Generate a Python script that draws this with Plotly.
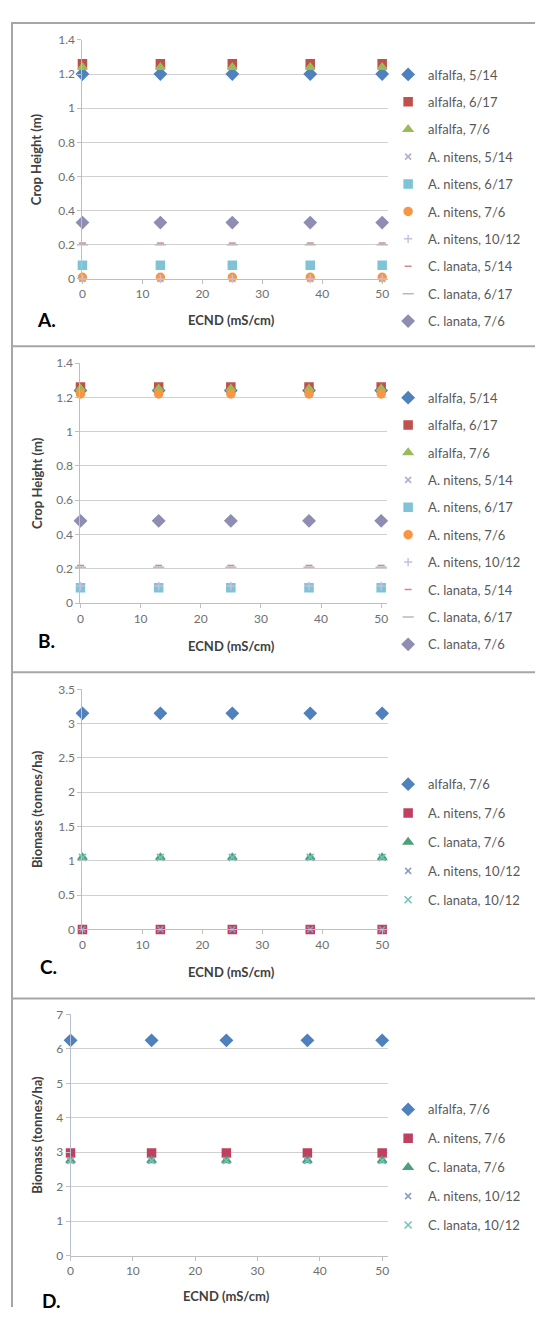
import plotly.graph_objects as go

# page is 544x1322; browser body has an 8px margin, so the figure is drawn 8px in
OFF = 8
W, H = 544 - 2 * OFF, 1322 - 2 * OFF

# ---------------- data ----------------
ecnd = [0, 13, 25, 38, 50]

# Panels A, B: crop height (m)
names_ab = ["alfalfa, 5/14", "alfalfa, 6/17", "alfalfa, 7/6",
            "A. nitens, 5/14", "A. nitens, 6/17", "A. nitens, 7/6",
            "A. nitens, 10/12", "C. lanata, 5/14", "C. lanata, 6/17",
            "C. lanata, 7/6"]
height_a = [1.20, 1.26, 1.24, 0.00, 0.08, 0.01, 0.00, 0.21, 0.20, 0.33]
height_b = [1.24, 1.26, 1.25, 0.09, 0.09, 1.22, 0.10, 0.22, 0.21, 0.48]

# Panels C, D: biomass (tonnes/ha)
names_cd = ["alfalfa, 7/6", "A. nitens, 7/6", "C. lanata, 7/6",
            "A. nitens, 10/12", "C. lanata, 10/12"]
biomass_c = [3.15, 0.00, 1.05, 0.00, 1.05]
biomass_d = [6.25, 2.98, 2.76, 2.76, 2.76]

yticks_ab = [0, 0.2, 0.4, 0.6, 0.8, 1, 1.2, 1.4]
yticklabels_ab = ["0", "0.2", "0.4", "0.6", "0.8", "1", "1.2", "1.4"]
yticks_c = [0, 0.5, 1, 1.5, 2, 2.5, 3, 3.5]
yticklabels_c = ["0", "0.5", "1", "1.5", "2", "2.5", "3", "3.5"]
yticks_d = [0, 1, 2, 3, 4, 5, 6, 7]
xticks = [0, 10, 20, 30, 40, 50]

# ---------------- styles ----------------
style_ab = [
    dict(symbol="diamond", color="#4F81BD", size=9),
    dict(symbol="square", color="#C0504D", size=8),
    dict(symbol="triangle-up", color="#9BBB59", size=8),
    dict(symbol="x-thin-open", color="#B7A9CC", size=6),
    dict(symbol="square", color="#7EC3D6", size=8),
    dict(symbol="circle", color="#F79646", size=8),
    dict(symbol="cross-thin-open", color="#C9C0DC", size=6),
    dict(symbol="line-ew-open", color="#D08A88", size=5),
    dict(symbol="line-ew-open", color="#B9B9B9", size=8),
    dict(symbol="diamond", color="#8E8DB2", size=9),
]
style_cd = [
    dict(symbol="diamond", color="#4F81BD", size=9),
    dict(symbol="square", color="#C0405F", size=8),
    dict(symbol="triangle-up", color="#4FA07A", size=8),
    dict(symbol="x-thin-open", color="#8C9CC0", size=6),
    dict(symbol="x-thin-open", color="#6FC2B5", size=7),
]


def px_x(p):
    return (p - OFF) / W


def px_y(p):
    return 1 - (p - OFF) / H


panels = [
    dict(names=names_ab, vals=height_a, styles=style_ab, x0=80, x50=382, y0=274, ytop=32,
         ymax=1.4, yt=yticks_ab, ytl=yticklabels_ab, ytitle="Crop Height (m)", label="A.",
         leg_top=52, leg_gap=7.5, frame_top=15, lab_y=315, lab_x=32, tit_y=316, tit_x=230),
    dict(names=names_ab, vals=height_b, styles=style_ab, x0=78, x50=381, y0=602, ytop=359,
         ymax=1.4, yt=yticks_ab, ytl=yticklabels_ab, ytitle="Crop Height (m)", label="B.",
         leg_top=379, leg_gap=7.5, frame_top=342, lab_y=640, lab_x=33, tit_y=645, tit_x=230),
    dict(names=names_cd, vals=biomass_c, styles=style_cd, x0=80, x50=382, y0=932, ytop=689,
         ymax=3.5, yt=yticks_c, ytl=yticklabels_c, ytitle="Biomass (tonnes/ha)", label="C.",
         leg_top=770, leg_gap=9, frame_top=672, lab_y=970, lab_x=35, tit_y=975, tit_x=230),
    dict(names=names_cd, vals=biomass_d, styles=style_cd, x0=68, x50=382, y0=1262, ytop=1018,
         ymax=7, yt=yticks_d, ytl=[str(v) for v in yticks_d], ytitle="Biomass (tonnes/ha)", label="D.",
         leg_top=1099, leg_gap=9, frame_top=1002, lab_y=1307, lab_x=37, tit_y=1303, tit_x=225),
]

fig = go.Figure()
font_family = "Lato, 'Open Sans', sans-serif"

annotations = []
shapes = []
for i, p in enumerate(panels):
    n = i + 1
    xa = "xaxis" if n == 1 else f"xaxis{n}"
    ya = "yaxis" if n == 1 else f"yaxis{n}"
    xref = "x" if n == 1 else f"x{n}"
    yref = "y" if n == 1 else f"y{n}"
    leg = "legend" if n == 1 else f"legend{n}"
    xmax = 51
    right_px = p["x0"] + (p["x50"] - p["x0"]) * xmax / 50
    for j, (nm, v, st) in enumerate(zip(p["names"], p["vals"], p["styles"])):
        fig.add_trace(go.Scatter(
            x=ecnd, y=[v] * len(ecnd), mode="markers", name=nm,
            marker=dict(symbol=st["symbol"], color=st["color"], size=st["size"],
                        line=dict(color=st["color"], width=1.5)),
            xaxis=xref, yaxis=yref, legend=leg, legendgroup=f"{n}-{j}",
            cliponaxis=False, showlegend=True,
        ))
    fig.update_layout(**{
        xa: dict(domain=[px_x(p["x0"]), px_x(right_px)], range=[0, xmax],
                 tickvals=xticks, ticks="outside", ticklen=4, tickcolor="#BFBFBF",
                 showgrid=False, zeroline=False, showline=True, linecolor="#BFBFBF",
                 linewidth=1, tickfont=dict(size=12, color="#707070", family=font_family),
                 anchor=yref, fixedrange=True),
        ya: dict(domain=[px_y(p["y0"]), px_y(p["ytop"])], range=[0, p["ymax"] * 1.0005],
                 tickvals=p["yt"], ticktext=p["ytl"], ticks="outside", ticklen=4,
                 tickcolor="#BFBFBF", showgrid=True, gridcolor="#D0D0D0", gridwidth=1.3,
                 zeroline=False, showline=True, linecolor="#B8BED0", linewidth=1,
                 tickfont=dict(size=12, color="#707070", family=font_family),
                 anchor=xref, fixedrange=True),
        leg: dict(x=px_x(388), y=px_y(p["leg_top"]), xanchor="left", yanchor="top",
                  font=dict(size=13, color="#595959", family=font_family),
                  tracegroupgap=p["leg_gap"], itemwidth=30, bgcolor="rgba(0,0,0,0)",
                  borderwidth=0),
    })
    # axis titles
    annotations.append(dict(x=px_x(p["tit_x"]), y=px_y(p["tit_y"]),
                            xref="paper", yref="paper", text="<b>ECND (mS/cm)</b>",
                            xanchor="center", yanchor="middle", showarrow=False,
                            font=dict(size=13, color="#404040", family=font_family)))
    annotations.append(dict(x=px_x(34), y=px_y((p["y0"] + p["ytop"]) / 2),
                            xref="paper", yref="paper", text=f"<b>{p['ytitle']}</b>",
                            xanchor="center", yanchor="middle",
                            textangle=-90, showarrow=False,
                            font=dict(size=13, color="#404040", family=font_family)))
    annotations.append(dict(x=px_x(p["lab_x"]), y=px_y(p["lab_y"]), xref="paper", yref="paper",
                            text=f"<b>{p['label']}</b>", showarrow=False,
                            xanchor="left", yanchor="middle",
                            font=dict(size=19, color="#000000", family=font_family)))
    # frame separators
    shapes.append(dict(type="line", xref="paper", yref="paper",
                       x0=px_x(8), x1=1.0, y0=px_y(p["frame_top"]), y1=px_y(p["frame_top"]),
                       line=dict(color="#A6A6A6", width=2)))

shapes.append(dict(type="line", xref="paper", yref="paper", x0=px_x(9), x1=px_x(9),
                   y0=0, y1=px_y(15), line=dict(color="#A6A6A6", width=2)))

fig.update_layout(
    width=W, height=H, margin=dict(l=0, r=0, t=0, b=0),
    paper_bgcolor="white", plot_bgcolor="white",
    annotations=annotations, shapes=shapes, showlegend=True,
)

fig.write_html("out.html")
